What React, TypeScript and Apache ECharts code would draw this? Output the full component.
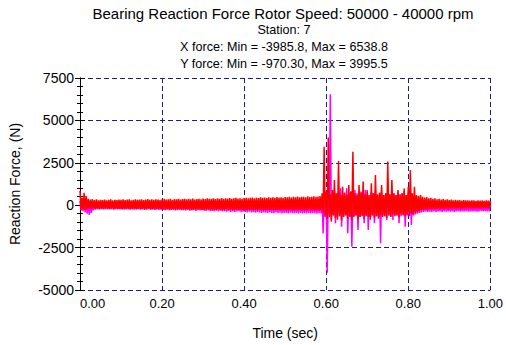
import React, { useEffect, useRef } from "react";
import * as echarts from "echarts";

// Sample grid: one bin every 0.005 s from 0.00 to 1.00 s (201 bins)
const STEP = 0.005;

// Y force (red): upper and lower value reached inside each bin
const yForceUpper = [
  850, 450, 730, 540, 380, 330, 360, 300, 340, 290,
  320, 300, 330, 280, 310, 340, 290, 320, 300, 330,
  310, 340, 300, 330, 350, 290, 320, 340, 310, 330,
  350, 300, 330, 360, 320, 340, 310, 350, 330, 300,
  340, 370, 330, 350, 380, 320, 360, 340, 370, 330,
  360, 380, 340, 370, 350, 390, 330, 360, 380, 350,
  390, 360, 400, 370, 380, 410, 360, 400, 380, 420,
  380, 410, 390, 420, 370, 400, 430, 390, 410, 380,
  420, 440, 400, 430, 450, 410, 440, 420, 460, 430,
  450, 420, 470, 440, 460, 430, 480, 450, 470, 440,
  480, 460, 500, 450, 490, 470, 510, 460, 490, 500,
  470, 520, 480, 500, 530, 490, 510, 540, 700, 3450,
  800, 3995.5, 650, 900, 1490, 700, 2600, 600, 1090, 750,
  650, 1190, 800, 3150, 700, 600, 1190, 750, 1390, 650,
  800, 600, 1290, 700, 1780, 650, 750, 1190, 600, 700,
  2570, 650, 1490, 700, 600, 900, 650, 700, 990, 600,
  1090, 2070, 700, 1090, 600, 550, 600, 500, 450, 480,
  400, 430, 380, 400, 350, 380, 330, 360, 320, 340,
  300, 330, 290, 310, 280, 300, 270, 300, 280, 290,
  270, 290, 280, 260, 290, 270, 280, 260, 280, 270,
  270,
];
const yForceLower = [
  -300, -250, -280, -230, -200, -220, -190, -210, -200, -230,
  -200, -220, -190, -230, -210, -200, -230, -190, -220, -210,
  -230, -210, -240, -200, -220, -240, -210, -230, -200, -240,
  -220, -250, -230, -210, -240, -220, -250, -230, -210, -240,
  -240, -260, -230, -250, -270, -240, -260, -230, -250, -270,
  -250, -270, -240, -260, -280, -250, -270, -240, -260, -280,
  -260, -280, -250, -270, -290, -260, -280, -250, -270, -290,
  -270, -250, -280, -260, -290, -270, -250, -280, -260, -290,
  -270, -290, -260, -280, -300, -270, -290, -260, -280, -300,
  -280, -260, -290, -270, -300, -280, -260, -290, -270, -300,
  -280, -300, -270, -290, -310, -280, -300, -270, -290, -310,
  -290, -270, -300, -280, -310, -290, -300, -280, -450, -600,
  -800, -700, -970.3, -600, -750, -850, -650, -900, -700, -600,
  -800, -650, -900, -700, -600, -850, -700, -650, -800, -600,
  -700, -850, -600, -750, -650, -800, -600, -700, -650, -750,
  -600, -700, -550, -650, -600, -700, -550, -600, -650, -550,
  -600, -500, -550, -450, -400, -350, -300, -280, -250, -260,
  -230, -250, -220, -240, -210, -230, -200, -220, -190, -210,
  -200, -180, -210, -190, -170, -200, -180, -190, -170, -180,
  -190, -170, -180, -160, -180, -170, -190, -160, -170, -180,
  -170,
];

// X force (magenta)
const xForceUpper = [
  250, 150, 200, 120, 180, 160, 200, 140, 190, 170,
  180, 150, 200, 160, 190, 140, 180, 170, 200, 150,
  190, 160, 210, 150, 180, 200, 160, 190, 170, 210,
  180, 200, 160, 210, 190, 170, 220, 180, 200, 160,
  210, 190, 230, 170, 200, 220, 180, 210, 190, 230,
  200, 220, 180, 230, 210, 190, 240, 200, 220, 190,
  230, 210, 250, 200, 240, 220, 190, 250, 210, 230,
  220, 250, 200, 240, 230, 210, 260, 220, 240, 210,
  250, 230, 260, 220, 250, 270, 230, 260, 240, 220,
  260, 240, 270, 230, 260, 280, 240, 270, 250, 230,
  270, 250, 280, 240, 270, 290, 250, 280, 260, 240,
  280, 260, 290, 250, 280, 300, 260, 290, 400, 600,
  500, 1000, 6538.8, 700, 900, 600, 800, 1000, 700, 600,
  1000, 700, 800, 600, 900, 700, 600, 800, 700, 900,
  900, 600, 800, 700, 900, 600, 700, 800, 600, 700,
  800, 600, 900, 700, 600, 800, 600, 700, 800, 600,
  700, 800, 600, 500, 400, 350, 300, 250, 200, 180,
  150, 120, 100, 80, 60, 50, 40, 30, 20, 10,
  0, 20, -10, 10, 0, -20, 10, 0, -10, 20,
  0, -10, 10, -20, 0, 10, -10, 0, -20, 10,
  0,
];
const xForceLower = [
  -300, -350, -420, -500, -580, -450, -300, -260, -240, -250,
  -230, -250, -240, -220, -250, -230, -260, -240, -230, -250,
  -240, -260, -230, -250, -270, -240, -260, -250, -230, -270,
  -250, -270, -260, -240, -280, -260, -270, -250, -280, -260,
  -270, -290, -260, -300, -280, -270, -310, -290, -270, -300,
  -290, -310, -280, -320, -300, -290, -330, -300, -310, -290,
  -320, -340, -310, -350, -330, -360, -320, -350, -340, -370,
  -350, -380, -340, -390, -360, -400, -370, -350, -410, -380,
  -400, -420, -380, -430, -410, -440, -400, -430, -450, -420,
  -440, -460, -420, -450, -470, -430, -460, -440, -480, -450,
  -460, -480, -440, -470, -490, -450, -480, -460, -490, -470,
  -480, -460, -490, -470, -480, -500, -470, -490, -1660, -700,
  -3985.8, -500, -770, -600, -1070, -700, -550, -1270, -650, -600,
  -1660, -700, -2450, -650, -600, -1460, -700, -600, -1070, -650,
  -1460, -700, -600, -1070, -650, -700, -2250, -600, -650, -870,
  -600, -650, -870, -550, -600, -1070, -650, -550, -1270, -600,
  -650, -1170, -600, -550, -500, -450, -420, -400, -380, -400,
  -380, -400, -370, -390, -380, -360, -390, -370, -380, -360,
  -380, -360, -390, -370, -350, -380, -360, -370, -350, -380,
  -360, -370, -350, -380, -360, -340, -370, -350, -360, -370,
  -360,
];

const titleLines = [
  "Bearing Reaction Force Rotor Speed: 50000 - 40000 rpm",
  "Station: 7",
  "X force: Min = -3985.8, Max = 6538.8",
  "Y force: Min = -970.30, Max = 3995.5",
];

const FONT = "'Liberation Sans', Arial, sans-serif";

function zigzag(upper: number[], lower: number[]) {
  const pts: [number, number][] = [];
  for (let i = 0; i < upper.length; i++) {
    const t = i * STEP;
    pts.push([+t.toFixed(4), upper[i]]);
    if (i < upper.length - 1) pts.push([+(t + STEP / 2).toFixed(4), lower[i]]);
  }
  return pts;
}

export default function App() {
  const ref = useRef<HTMLDivElement>(null);
  useEffect(() => {
    if (!ref.current) return;
    const chart = echarts.init(ref.current, null, { renderer: "svg" });
    const gridColor = "#1c1c8a";
    const xBase = {
      type: "value" as const,
      min: 0,
      max: 1,
      interval: 0.2,
      axisTick: { show: true, inside: true, length: 5, lineStyle: { color: "#000" } },
      minorTick: { show: true, splitNumber: 10, length: 3, lineStyle: { color: "#000" } },
    };
    const yBase = {
      type: "value" as const,
      min: -5000,
      max: 7500,
      interval: 2500,
      axisTick: { show: true, inside: true, length: 5, lineStyle: { color: "#000" } },
      minorTick: { show: true, splitNumber: 5, length: 3, lineStyle: { color: "#000" } },
    };
    chart.setOption({
      animation: false,
      backgroundColor: "#ffffff",
      textStyle: { fontFamily: FONT },
      grid: { left: 76, right: 15, top: 78, bottom: 55, containLabel: false },
      graphic: [
        {
          type: "text",
          x: 283,
          y: 13,
          style: {
            text: titleLines[0],
            fontSize: 15,
            fontFamily: FONT,
            fill: "#000",
            textAlign: "center",
            textVerticalAlign: "middle",
          },
        },
        ...titleLines.slice(1).map((s, k) => ({
          type: "text",
          x: 284,
          y: 30 + k * 17,
          style: {
            text: s,
            fontSize: 12.6,
            fontFamily: FONT,
            fill: "#000",
            textAlign: "center",
            textVerticalAlign: "middle",
          },
        })),
      ],
      xAxis: [
        {
          ...xBase,
          position: "bottom",
          name: "Time (sec)",
          nameLocation: "middle",
          nameGap: 36,
          nameTextStyle: { fontSize: 14, color: "#000", fontFamily: FONT },
          axisLine: { show: true, lineStyle: { color: "#000" } },
          axisLabel: {
            show: true,
            margin: 7,
            fontSize: 13,
            color: "#000",
            fontFamily: FONT,
            formatter: (v: number) => v.toFixed(2),
            alignMinLabel: "left",
          },
          splitLine: { show: true, lineStyle: { color: gridColor, type: [5, 3], width: 1 } },
        },
        {
          ...xBase,
          position: "top",
          axisLine: { show: true, lineStyle: { color: "#000" } },
          axisLabel: { show: false },
          splitLine: { show: false },
        },
      ],
      yAxis: [
        {
          ...yBase,
          position: "left",
          name: "Reaction Force, (N)",
          nameLocation: "middle",
          nameGap: 58,
          nameRotate: 90,
          nameTextStyle: { fontSize: 14, color: "#000", fontFamily: FONT },
          axisLine: { show: true, lineStyle: { color: "#3434a6" } },
          axisLabel: {
            show: true,
            margin: 6,
            fontSize: 14,
            color: "#000",
            fontFamily: FONT,
            formatter: (v: number) => String(v),
          },
          splitLine: { show: true, lineStyle: { color: gridColor, type: [5, 3], width: 1 } },
        },
        {
          ...yBase,
          position: "right",
          axisLine: { show: true, lineStyle: { color: "#000" } },
          axisLabel: { show: false },
          splitLine: { show: false },
        },
      ],
      series: [
        {
          name: "X force",
          type: "line",
          xAxisIndex: 0,
          yAxisIndex: 0,
          data: zigzag(xForceUpper, xForceLower),
          showSymbol: false,
          symbol: "none",
          lineStyle: { color: "#ff00ff", width: 1.5 },
          itemStyle: { color: "#ff00ff" },
        },
        {
          name: "Y force",
          type: "line",
          xAxisIndex: 0,
          yAxisIndex: 0,
          data: zigzag(yForceUpper, yForceLower),
          showSymbol: false,
          symbol: "none",
          lineStyle: { color: "#ff0000", width: 1.5 },
          itemStyle: { color: "#ff0000" },
        },
      ],
    });
    return () => chart.dispose();
  }, []);
  return (
    <div
      ref={ref}
      style={{ position: "absolute", left: 0, top: 0, width: 506, height: 345, background: "#fff" }}
    />
  );
}
